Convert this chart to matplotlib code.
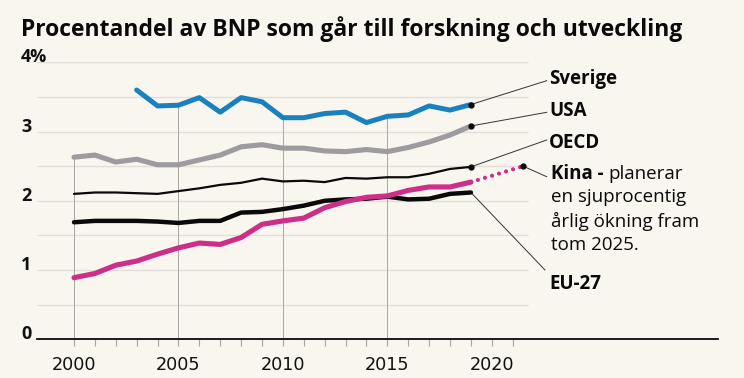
import matplotlib
matplotlib.use("Agg")
import matplotlib.pyplot as plt
from matplotlib.transforms import blended_transform_factory
import numpy as np

# ---------------- data ----------------
years = list(range(2000, 2020))
sverige_years = list(range(2003, 2020))
sverige = [3.60, 3.37, 3.38, 3.49, 3.28, 3.49, 3.43, 3.20, 3.20, 3.26, 3.28,
           3.13, 3.22, 3.24, 3.37, 3.31, 3.39]
usa = [2.63, 2.66, 2.56, 2.60, 2.52, 2.52, 2.59, 2.66, 2.78, 2.81, 2.76, 2.76,
       2.72, 2.71, 2.74, 2.71, 2.77, 2.85, 2.95, 3.08]
oecd = [2.10, 2.12, 2.12, 2.11, 2.10, 2.14, 2.18, 2.23, 2.26, 2.32, 2.28, 2.29,
        2.27, 2.33, 2.32, 2.34, 2.34, 2.39, 2.46, 2.49]
eu27 = [1.69, 1.71, 1.71, 1.71, 1.70, 1.68, 1.71, 1.71, 1.83, 1.84, 1.88, 1.93,
        2.00, 2.02, 2.03, 2.06, 2.02, 2.03, 2.10, 2.12]
kina = [0.89, 0.95, 1.07, 1.13, 1.23, 1.32, 1.39, 1.37, 1.47, 1.66, 1.71, 1.75,
        1.90, 1.99, 2.05, 2.07, 2.15, 2.20, 2.20, 2.27]
kina_plan_years = [2019, 2021.5]
kina_plan = [2.27, 2.50]

yticks = [0, 1, 2, 3, 4]
ytick_labels = ["0", "1", "2", "3", "4%"]
xticks_major = [2000, 2005, 2010, 2015, 2020]
xticks_minor = list(range(2000, 2022))
vgrid_years = [2000, 2005, 2010, 2015]

title = "Procentandel av BNP som går till forskning och utveckling"

# ---------------- style ----------------
BG = "#f9f5ef"
BLUE = "#1b80bf"
GRAY = "#9d9ba0"
PINK = "#cc2e88"
BLACK = "#0a0a0a"
GRID = "#e2ddd6"
VGRID = "#a9a5a0"

LABEL_FONT = ["Open Sans", "DejaVu Sans"]

fig = plt.figure(figsize=(7.44, 3.78), dpi=100, facecolor=BG)
W, H = 744, 378
ax = fig.add_axes([37 / W, 1 - 339.3 / H, (718 - 37) / W, (339.3 - 62.3) / H])
ax.set_facecolor(BG)
x0 = 2000 - (74 - 37) / 20.89
x1 = 2000 + (718 - 74) / 20.89
ax.set_xlim(x0, x1)
ax.set_ylim(0, 4)

for s in ["top", "right", "left"]:
    ax.spines[s].set_visible(False)
ax.spines["bottom"].set_color(BLACK)
ax.spines["bottom"].set_linewidth(1.3)

# horizontal grid lines every 0.5
grid_end = 2000 + (527.7 - 74) / 20.89
ax.hlines(np.arange(0.5, 4.01, 0.5), x0, grid_end, color=GRID, lw=1.0, zorder=1)

# vertical grid lines up to the top series at that year
for yr in vgrid_years:
    vals = [usa[years.index(yr)], oecd[years.index(yr)], eu27[years.index(yr)],
            kina[years.index(yr)]]
    if yr in sverige_years:
        vals.append(sverige[sverige_years.index(yr)])
    ax.vlines(yr, 0, max(vals), color=VGRID, lw=0.7, zorder=1)

# ticks
ax.set_xticks(xticks_major)
ax.set_xticklabels([str(t) for t in xticks_major], fontsize=12.7,
                   family="DejaVu Sans", color="#111111")
ax.set_xticks(xticks_minor, minor=True)
ax.tick_params(axis="x", which="both", length=5, width=0.8, color=VGRID,
               pad=7)
ax.set_yticks([])

# y labels, left-aligned sitting on their grid line
tr = blended_transform_factory(fig.transFigure, ax.transData)
for v, lab in zip(yticks, ytick_labels):
    ax.text(21 / W, v, lab, transform=tr, ha="left", va="baseline",
            fontsize=13, fontweight="bold", family=LABEL_FONT, color="#111111")

# series
kw = dict(solid_capstyle="round", solid_joinstyle="round", zorder=3)
ax.plot(years, oecd, color=BLACK, lw=1.6, **kw)
ax.plot(years, usa, color=GRAY, lw=3.7, **kw)
ax.plot(sverige_years, sverige, color=BLUE, lw=3.6, **kw)
ax.plot(years, eu27, color=BLACK, lw=3.2, **kw)
ax.plot(years, kina, color=PINK, lw=3.7, **kw)
ax.plot(kina_plan_years, kina_plan, color=PINK, lw=3.0,
        linestyle=(0, (0.01, 1.75)), dash_capstyle="round", zorder=3)

# end dots
ends = [(sverige_years[-1], sverige[-1]), (years[-1], usa[-1]),
        (years[-1], oecd[-1]), (kina_plan_years[-1], kina_plan[-1])]
for ex, ey in ends:
    ax.plot([ex], [ey], "o", color=BLACK, ms=3.5, zorder=5)

# labels with leader lines (label anchor in pixel coords)
def px2data(px, py):
    return (2000 + (px - 74) / 20.89, (339.3 - py) / 69.25)

lab_font = dict(fontsize=13.5, fontweight="bold", family=LABEL_FONT,
                color=BLACK)
labels = [
    ("Sverige", (sverige_years[-1], sverige[-1]), (546.7, 80.7), (549, 79)),
    ("USA", (years[-1], usa[-1]), (546.7, 112.3), (549, 111.5)),
    ("OECD", (years[-1], oecd[-1]), (546.7, 140), (549, 143)),
]
for text, (ex, ey), lead, pos in labels:
    lx, ly = px2data(*lead)
    ax.plot([ex, lx], [ey, ly], color="#333333", lw=0.7, zorder=2,
            clip_on=False)
    tx, ty = px2data(*pos)
    ax.text(tx, ty, text, ha="left", va="center", clip_on=False, **lab_font)

# EU-27
lx, ly = px2data(545, 270)
ax.plot([years[-1], lx], [eu27[-1], ly], color="#333333", lw=0.7, zorder=2,
        clip_on=False)
tx, ty = px2data(549, 284)
ax.text(tx, ty, "EU-27", ha="left", va="center", clip_on=False, **lab_font)

# Kina
lx, ly = px2data(546.7, 176.7)
ax.plot([kina_plan_years[-1], lx], [kina_plan[-1], ly], color="#333333",
        lw=0.7, zorder=2, clip_on=False)
tx, ty = px2data(551, 174)
t1 = ax.text(tx, ty, "Kina -", ha="left", va="center", clip_on=False,
             **lab_font)
fig.canvas.draw()
bb = t1.get_window_extent()
ax.text(bb.x1 + 5, (378 - 174), "planerar", transform=None, ha="left",
        va="center", fontsize=13.5, family=LABEL_FONT, color=BLACK)
for i, line in enumerate(["en sjuprocentig", "årlig ökning fram",
                          "tom 2025."], start=1):
    tx, ty = px2data(551, 174 + 23.5 * i)
    ax.text(tx, ty, line, ha="left", va="center", clip_on=False,
            fontsize=13.5, family=LABEL_FONT, color=BLACK)

# title
fig.text(21 / W, 1 - 36 / H, title, ha="left", va="baseline",
         fontsize=16.5, fontweight="bold", family=LABEL_FONT, color=BLACK)

fig.savefig("out.png", dpi=100, facecolor=BG)
